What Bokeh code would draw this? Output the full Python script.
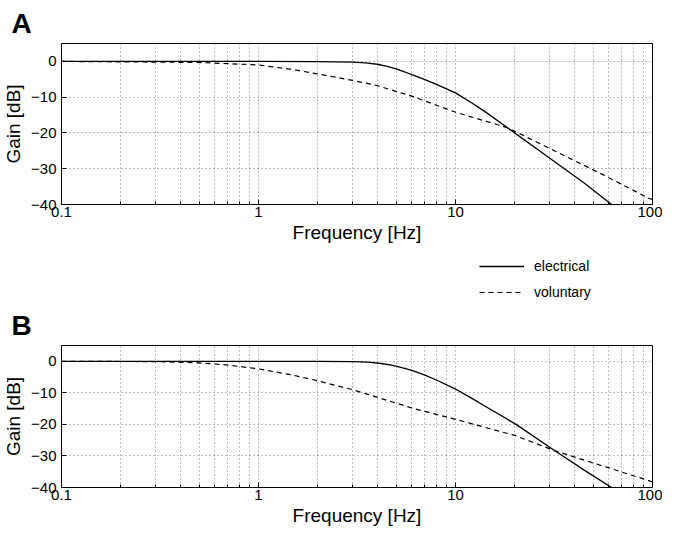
from bokeh.plotting import figure
from bokeh.layouts import column
from bokeh.models import FixedTicker, Legend, LegendItem, Range1d
from bokeh.embed import file_html
from bokeh.resources import INLINE

# values
freq_a_el = [0.1, 1, 2, 3, 3.5, 4, 4.5, 5, 5.5, 6, 7, 8, 10, 12, 14, 18.3, 30, 45, 62]
gain_a_el = [0, 0, -0.05, -0.2, -0.4, -0.8, -1.4, -2.1, -2.9, -3.7, -5.1, -6.4, -8.8, -11.5, -13.9, -18.5, -27, -34, -40]
freq_a_vo = [0.1, 0.5, 1, 1.5, 2, 3, 3.9, 6, 10, 18.3, 30, 56.7, 96, 100]
gain_a_vo = [0, -0.3, -1, -2.3, -3.5, -5.3, -6.6, -9.7, -14.2, -18.5, -24.3, -31.8, -38.3, -38.6]

freq_b_el = [0.1, 1, 2, 3, 3.6, 4.2, 4.8, 5.4, 6, 7, 8.1, 10, 12, 14, 20.3, 31.8, 45, 62]
gain_b_el = [0, 0, -0.05, -0.1, -0.3, -0.7, -1.3, -2.1, -2.9, -4.4, -6.1, -8.8, -11.6, -14.1, -20, -28.3, -34.5, -40]
freq_b_vo = [0.1, 0.3, 0.5, 0.7, 1, 1.5, 2, 3, 3.6, 6, 10, 20, 31.8, 60, 100]
gain_b_vo = [0, -0.1, -0.5, -1.2, -2.4, -4.4, -6.2, -9.0, -10.5, -14.8, -18.4, -23.5, -28.3, -33.8, -38.2]

legend_labels = ["electrical", "voluntary"]

major = [0.1, 1, 10, 100]
minor = [m * d for d in [0.1, 1, 10] for m in range(2, 10)]
FONT = "Liberation Sans"


def panel(label, fe, ge, fv, gv, height, border_top, border_bottom):
    p = figure(width=662, height=height, x_axis_type="log", title=label,
               x_range=Range1d(0.1, 100), y_range=Range1d(-40, 5),
               output_backend="svg", toolbar_location=None,
               min_border_left=60, min_border_right=10,
               min_border_top=border_top, min_border_bottom=border_bottom)
    p.title.text_font = FONT
    p.title.text_font_size = "28px"
    p.title.text_font_style = "bold"
    p.title.text_color = "black"
    p.title.offset = -50
    p.outline_line_color = "black"
    p.outline_line_width = 1
    p.line(fe, ge, line_color="black", line_width=1.3)
    p.line(fv, gv, line_color="black", line_width=1.2, line_dash="5 4")
    p.xaxis.ticker = FixedTicker(ticks=major, minor_ticks=minor)
    p.xaxis.major_label_overrides = {0.1: "0.1", 1: "1", 10: "10", 100: "100"}
    p.yaxis.ticker = FixedTicker(ticks=[-40, -30, -20, -10, 0])
    for ax in [p.xaxis, p.yaxis]:
        ax.major_tick_in = 5
        ax.major_tick_out = 0
        ax.minor_tick_in = 3
        ax.minor_tick_out = 0
        ax.axis_line_color = None
        ax.major_label_text_font = FONT
        ax.major_label_text_font_size = "15px"
        ax.major_label_text_color = "black"
        ax.axis_label_text_font = FONT
        ax.axis_label_text_font_size = "19px"
        ax.axis_label_text_font_style = "normal"
        ax.axis_label_text_color = "black"
    p.xaxis.axis_label = "Frequency [Hz]"
    p.yaxis.axis_label = "Gain [dB]"
    p.xaxis.axis_label_standoff = 2
    p.xaxis.major_label_standoff = 2
    p.yaxis.axis_label_standoff = 4
    for g in [p.xgrid, p.ygrid]:
        g.grid_line_color = "#555555"
        g.grid_line_dash = "1 3"
        g.grid_line_alpha = 0.8
    p.xgrid.minor_grid_line_color = "#555555"
    p.xgrid.minor_grid_line_dash = "1 3"
    p.xgrid.minor_grid_line_alpha = 0.8
    return p


pa = panel("A", freq_a_el, gain_a_el, freq_a_vo, gain_a_vo, 250, 37, 46)
pb = panel("B", freq_b_el, gain_b_el, freq_b_vo, gain_b_vo, 226, 25, 35)

# legend strip between the two panels
pl = figure(width=662, height=52, output_backend="svg", toolbar_location=None,
            x_range=Range1d(0, 1), y_range=Range1d(0, 1),
            min_border_left=0, min_border_right=0, min_border_top=0, min_border_bottom=0)
pl.axis.visible = False
pl.grid.visible = False
pl.outline_line_color = None
# lines kept outside the visible range: only their legend glyphs show
l1 = pl.line([2, 3], [2, 3], line_color="black", line_width=1.3)
l2 = pl.line([2, 3], [2, 3], line_color="black", line_width=1.2, line_dash="5 4")
legend = Legend(items=[LegendItem(label=legend_labels[0], renderers=[l1]),
                       LegendItem(label=legend_labels[1], renderers=[l2])],
                location=(418, 0), border_line_color=None,
                background_fill_alpha=0, label_text_font=FONT,
                label_text_font_size="14px", label_text_color="black",
                glyph_width=45, spacing=6,
                margin=0, padding=0, label_standoff=10)
pl.add_layout(legend, "center")

p = column(pa, pl, pb, spacing=0)
open("out.html", "w").write(file_html(p, INLINE))
